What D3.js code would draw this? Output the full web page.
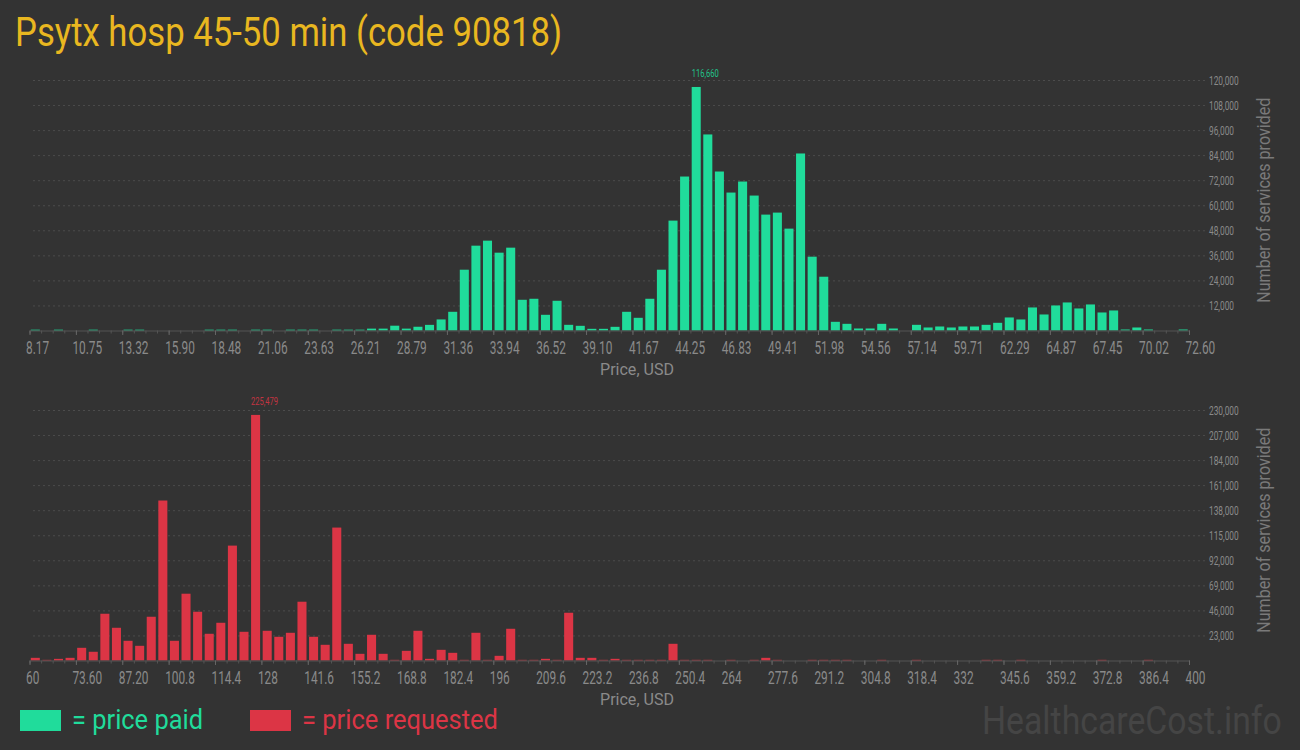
<!DOCTYPE html>
<html>
<head>
<meta charset="utf-8">
<script src="https://cdn.jsdelivr.net/npm/d3@7"></script>
<style>
  html, body { margin: 0; padding: 0; background: #333333; }
  svg { display: block; }
  text { font-family: Roboto, "Noto Sans", sans-serif; }
</style>
</head>
<body>
<div id="chart"></div>
<script>
// price paid: 100 bins from 8.17 to 72.60 USD
const paidTicks = ["8.17", "10.75", "13.32", "15.90", "18.48", "21.06", "23.63", "26.21", "28.79", "31.36",
  "33.94", "36.52", "39.10", "41.67", "44.25", "46.83", "49.41", "51.98", "54.56", "57.14",
  "59.71", "62.29", "64.87", "67.45", "70.02", "72.60"];
const paidCounts = [
  400, 0, 400, 0, 0, 400, 0, 0, 400, 400,
  0, 0, 0, 0, 0, 400, 400, 400, 0, 400,
  400, 0, 400, 400, 400, 0, 400, 400, 400, 900,
  900, 2300, 900, 1800, 2700, 5300, 8960, 29120, 40640, 43040,
  37280, 39680, 14720, 15200, 7520, 14240, 2720, 2240, 800, 800,
  1760, 8960, 6080, 15200, 29120, 52640, 73760, 116660, 93920, 76160,
  66080, 71360, 64640, 55520, 56480, 48800, 84800, 35360, 25760, 4160,
  3200, 960, 960, 3200, 960, 0, 2720, 1440, 1920, 1440,
  1920, 1920, 2720, 3680, 6240, 5280, 11040, 7680, 12000, 13440,
  10560, 12480, 8640, 9600, 480, 1440, 480, 0, 0, 480];
const paidYTicks = [12000, 24000, 36000, 48000, 60000, 72000, 84000, 96000, 108000, 120000];

// price requested: 100 bins from 60 to 400 USD
const requestedTicks = ["60", "73.60", "87.20", "100.8", "114.4", "128", "141.6", "155.2", "168.8", "182.4",
  "196", "209.6", "223.2", "236.8", "250.4", "264", "277.6", "291.2", "304.8", "318.4",
  "332", "345.6", "359.2", "372.8", "386.4", "400"];
const requestedCounts = [
  2450, 600, 1500, 2450, 11650, 8000, 42930, 30050, 18090, 13490,
  40170, 146890, 18090, 61330, 44770, 24530, 34650, 105490, 26370, 225479,
  27290, 21770, 25450, 53970, 21770, 14410, 122050, 15330, 6130, 23610,
  6130, 600, 8890, 27290, 1530, 9810, 7050, 600, 25450, 600,
  4290, 29130, 600, 600, 1530, 600, 43850, 2450, 2450, 600,
  1530, 600, 600, 600, 600, 15330, 600, 600, 600, 0,
  600, 0, 600, 2450, 600, 0, 0, 600, 600, 600,
  600, 0, 0, 600, 0, 0, 600, 0, 0, 0,
  0, 0, 600, 600, 0, 600, 0, 0, 0, 0,
  0, 0, 600, 0, 0, 0, 600, 0, 0, 0];
const requestedYTicks = [23000, 46000, 69000, 92000, 115000, 138000, 161000, 184000, 207000, 230000];

const GREEN = "#20dc9b";
const RED = "#dc3545";
const TICK_GREY = "#8a8a8a";

const width = 1300, height = 750;
const x0 = 29.5, x1 = 1189, gridLeft = 32, gridRight = 1205;

const svg = d3.select("#chart").append("svg")
  .attr("width", width)
  .attr("height", height);

svg.append("rect").attr("width", width).attr("height", height).attr("fill", "#333333");

// squeeze text horizontally, the original uses a condensed face
function squeeze(sel, k) {
  sel.each(function () {
    const w = this.getComputedTextLength();
    d3.select(this).attr("textLength", w * k).attr("lengthAdjust", "spacingAndGlyphs");
  });
}

svg.append("text")
  .attr("x", 15).attr("y", 46)
  .attr("fill", "#e9b720")
  .attr("font-size", 40)
  .attr("textLength", 547).attr("lengthAdjust", "spacingAndGlyphs")
  .text("Psytx hosp 45-50 min (code 90818)");

function drawPanel(counts, ticks, yTicks, color, top, bottom) {
  const g = svg.append("g");

  const xBand = d3.scaleBand()
    .domain(d3.range(counts.length))
    .range([x0, x1])
    .paddingInner(0.22)
    .paddingOuter(0.11);

  // bin edges, 4 bins between labels
  const xEdge = d3.scaleLinear().domain([0, counts.length]).range([x0, x1]);
  const step = counts.length / (ticks.length - 1);

  const y = d3.scaleLinear()
    .domain([0, yTicks[yTicks.length - 1]])
    .range([bottom, top]);

  // gridlines + right labels
  const yAxis = g.append("g")
    .attr("transform", `translate(${gridRight},0)`)
    .call(d3.axisRight(y)
      .tickValues(yTicks)
      .tickSize(-(gridRight - gridLeft))
      .tickPadding(4)
      .tickFormat(d3.format(",")));
  yAxis.select(".domain").remove();
  yAxis.selectAll("line")
    .attr("stroke", "#4c4c4c")
    .attr("stroke-dasharray", "2,3");
  yAxis.selectAll("text")
    .attr("fill", TICK_GREY)
    .attr("font-size", 13)
    .call(squeeze, 0.64);

  g.append("text")
    .attr("transform", `translate(1270,${(top + bottom) / 2 - 5}) rotate(-90)`)
    .attr("text-anchor", "middle")
    .attr("fill", "#7a7a7a")
    .attr("font-size", 18)
    .attr("textLength", 205).attr("lengthAdjust", "spacingAndGlyphs")
    .text("Number of services provided");

  // bars
  g.append("g").selectAll("rect")
    .data(counts)
    .join("rect")
    .attr("x", (d, i) => xBand(i))
    .attr("y", d => y(d))
    .attr("width", xBand.bandwidth())
    .attr("height", d => y(0) - y(d))
    .attr("fill", color);

  // minor ticks per bin
  const minor = g.append("g")
    .attr("transform", `translate(0,${bottom})`)
    .call(d3.axisBottom(xEdge)
      .tickValues(d3.range(0, counts.length + 1))
      .tickSize(3)
      .tickFormat(""));
  minor.selectAll("line").attr("stroke", "#555");
  minor.select(".domain").attr("stroke", "#555");

  // labelled ticks
  const major = g.append("g")
    .attr("transform", `translate(0,${bottom})`)
    .call(d3.axisBottom(xEdge)
      .tickValues(d3.range(0, counts.length + 1, step))
      .tickSize(4.5)
      .tickPadding(6)
      .tickFormat(d => ticks[Math.round(d / step)]));
  major.select(".domain").remove();
  major.selectAll("line").attr("stroke", "#666");
  major.selectAll("text")
    .attr("fill", TICK_GREY)
    .attr("font-size", 18.5)
    .attr("text-anchor", "start")
    .attr("x", -4)
    .call(squeeze, 0.64);

  g.append("text")
    .attr("x", 637).attr("y", bottom + 44)
    .attr("text-anchor", "middle")
    .attr("fill", TICK_GREY)
    .attr("font-size", 17)
    .attr("textLength", 74).attr("lengthAdjust", "spacingAndGlyphs")
    .text("Price, USD");

  // peak value
  const peak = d3.maxIndex(counts);
  g.append("text")
    .attr("x", xBand(peak))
    .attr("y", y(counts[peak]) - 10)
    .attr("fill", color)
    .attr("opacity", 0.85)
    .attr("font-size", 10.5)
    .text(d3.format(",")(counts[peak]))
    .call(squeeze, 0.72);
}

drawPanel(paidCounts, paidTicks, paidYTicks, GREEN, 80, 330.5);
drawPanel(requestedCounts, requestedTicks, requestedYTicks, RED, 410, 660.5);

// legend
const legend = svg.append("g");
legend.append("rect").attr("x", 20).attr("y", 710).attr("width", 41).attr("height", 21).attr("fill", GREEN);
legend.append("text")
  .attr("x", 72).attr("y", 729)
  .attr("fill", GREEN).attr("font-size", 27)
  .attr("textLength", 131).attr("lengthAdjust", "spacingAndGlyphs")
  .text("= price paid");
legend.append("rect").attr("x", 250).attr("y", 710).attr("width", 41).attr("height", 21).attr("fill", RED);
legend.append("text")
  .attr("x", 302).attr("y", 729)
  .attr("fill", RED).attr("font-size", 27)
  .attr("textLength", 196).attr("lengthAdjust", "spacingAndGlyphs")
  .text("= price requested");

// watermark, squeezed with a transform so its box stays inside the page
const mark = svg.append("text")
  .attr("fill", "#454545")
  .attr("font-size", 38)
  .text("HealthcareCost.info");
const markW = mark.node().getComputedTextLength();
mark.attr("transform", `translate(982,734) scale(${300 / markW},1)`);
</script>
</body>
</html>
